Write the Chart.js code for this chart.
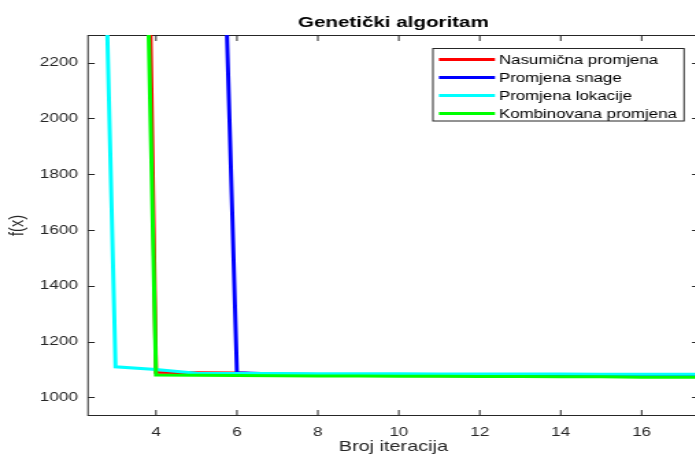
<!DOCTYPE html>
<html>
<head>
<meta charset="utf-8">
<script src="https://cdn.jsdelivr.net/npm/chart.js@4/dist/chart.umd.min.js"></script>
<style>
  html, body { margin: 0; padding: 0; background: #fff; overflow: hidden; width: 695px; height: 461px; }
  #wrap { position: absolute; left: 0; top: 0; width: 512px; height: 461px; transform: scaleX(1.37); transform-origin: 0 0; }
</style>
</head>
<body>
<div id="wrap"><canvas id="c" width="512" height="461"></canvas></div>
<script>
// ---- data ----
const chartTitle = 'Genetički algoritam';
const xLabel = 'Broj iteracija';
const yLabel = 'f(x)';
const iterations = [2, 3, 4, 5, 6, 7, 8, 9, 10, 11, 12, 13, 14, 15, 16, 17, 18];
const nasumicna  = [null, 10000, 1090, 1089, 1088, 1082, 1080, 1079, 1079, 1078, 1078, 1077, 1077, 1077, 1076, 1076, 1076];
const snage      = [null, null, null, 6000, 1089, 1084, 1082, 1081, 1080, 1080, 1079, 1079, 1078, 1078, 1078, 1078, 1078];
const lokacije   = [7000, 1110, 1100, 1087, 1086, 1086, 1085, 1085, 1085, 1084, 1084, 1084, 1084, 1083, 1083, 1083, 1083];
const kombinovana= [null, 7840, 1081, 1080, 1079, 1078, 1077, 1077, 1076, 1076, 1075, 1075, 1074, 1074, 1073, 1073, 1072];
const seriesNames = ['Nasumična promjena', 'Promjena snage', 'Promjena lokacije', 'Kombinovana promjena'];
const seriesColors = ['#ff0000', '#0000ff', '#00ffff', '#00ff00'];
const xTicks = [4, 6, 8, 10, 12, 14, 16];
const yTicks = [1000, 1200, 1400, 1600, 1800, 2000, 2200];
const xRange = [2.32, 17.41];
const yRange = [933.7, 2299];

const FONT = "'Liberation Sans', Arial, Helvetica, sans-serif";
const AX = '#262626';

function pts(vals) {
  return iterations.map((x, i) => ({ x: x, y: vals[i] }));
}
const allSeries = [nasumicna, snage, lokacije, kombinovana];
const datasets = allSeries.map((vals, i) => ({
  label: seriesNames[i],
  data: pts(vals),
  borderColor: seriesColors[i],
  backgroundColor: seriesColors[i],
  borderWidth: 3,
  pointRadius: 0,
  tension: 0,
  fill: false,
  spanGaps: false,
  clip: 0,
  borderJoinStyle: 'miter',
  order: 3 - i
}));

const matlabAxes = {
  id: 'matlabAxes',
  beforeDatasetsDraw(chart) {
    const { ctx, chartArea: a, scales } = chart;
    ctx.save();
    ctx.strokeStyle = AX;
    ctx.lineWidth = 1;
    const top = Math.round(a.top) + 0.5, bot = Math.round(a.bottom) - 0.5;
    ctx.beginPath();
    ctx.moveTo(a.left, top); ctx.lineTo(a.right, top);
    ctx.moveTo(a.left, bot); ctx.lineTo(a.right, bot);
    ctx.moveTo(a.left, a.top); ctx.lineTo(a.left, a.bottom);
    ctx.moveTo(a.right, a.top); ctx.lineTo(a.right, a.bottom);
    xTicks.forEach(v => {
      const px = scales.x.getPixelForValue(v);
      ctx.moveTo(px, bot); ctx.lineTo(px, bot - 5.5);
      ctx.moveTo(px, top); ctx.lineTo(px, top + 5.5);
    });
    yTicks.forEach(v => {
      const py = Math.round(scales.y.getPixelForValue(v)) + 0.5;
      ctx.moveTo(a.left, py); ctx.lineTo(a.left + 4.9, py);
      ctx.moveTo(a.right, py); ctx.lineTo(a.right - 4.9, py);
    });
    ctx.stroke();
    ctx.restore();
  },
  afterDatasetsDraw(chart) {
    const { ctx, chartArea: a } = chart;
    ctx.save();
    // title
    ctx.fillStyle = '#000';
    ctx.font = 'bold 15px ' + FONT;
    ctx.textAlign = 'center';
    ctx.textBaseline = 'alphabetic';
    ctx.fillText(chartTitle, (a.left + a.right) / 2, 26.5);
    // legend
    const L = 316, R = 499.3, T = 48.5, B = 121;
    ctx.fillStyle = '#fff';
    ctx.fillRect(L, T, R - L, B - T);
    ctx.strokeStyle = AX;
    ctx.lineWidth = 1;
    ctx.strokeRect(L, T, R - L, B - T);
    ctx.font = '12.3px ' + FONT;
    ctx.textAlign = 'left';
    chart.data.datasets.forEach((ds, i) => {
      const y = 59.5 + 18 * i;
      ctx.strokeStyle = ds.borderColor;
      ctx.lineWidth = 3;
      ctx.beginPath();
      ctx.moveTo(320.4, y); ctx.lineTo(361.3, y);
      ctx.stroke();
      ctx.fillStyle = '#000';
      ctx.fillText(ds.label, 364.2, y + 4.6);
    });
    ctx.restore();
  }
};

new Chart(document.getElementById('c'), {
  type: 'line',
  data: { datasets: datasets },
  options: {
    responsive: false,
    animation: false,
    devicePixelRatio: 1,
    layout: { padding: { top: 35, right: 2, left: 0, bottom: 0 } },
    plugins: {
      legend: { display: false },
      title: { display: false },
      tooltip: { enabled: false }
    },
    scales: {
      x: {
        type: 'linear',
        min: xRange[0],
        max: xRange[1],
        afterBuildTicks: s => { s.ticks = xTicks.map(v => ({ value: v })); },
        afterFit: s => { s.height = 45; },
        grid: { display: false, drawTicks: false },
        border: { display: false },
        ticks: { padding: 9, maxRotation: 0, color: AX, font: { family: FONT, size: 12.5 }, callback: v => String(v) },
        title: { display: true, text: xLabel, color: AX, font: { family: FONT, size: 14.5 }, padding: { top: 0, bottom: 5.3 } }
      },
      y: {
        type: 'linear',
        min: yRange[0],
        max: yRange[1],
        afterBuildTicks: s => { s.ticks = yTicks.map(v => ({ value: v })); },
        afterFit: s => { s.width = 64.23; },
        grid: { display: false, drawTicks: false },
        border: { display: false },
        ticks: { padding: 7.3, color: AX, font: { family: FONT, size: 12.5 }, callback: v => String(v) },
        title: { display: true, text: yLabel, color: AX, font: { family: FONT, size: 14.5 }, padding: { top: 4.3, bottom: 0 } }
      }
    }
  },
  plugins: [matlabAxes]
});
</script>
</body>
</html>
